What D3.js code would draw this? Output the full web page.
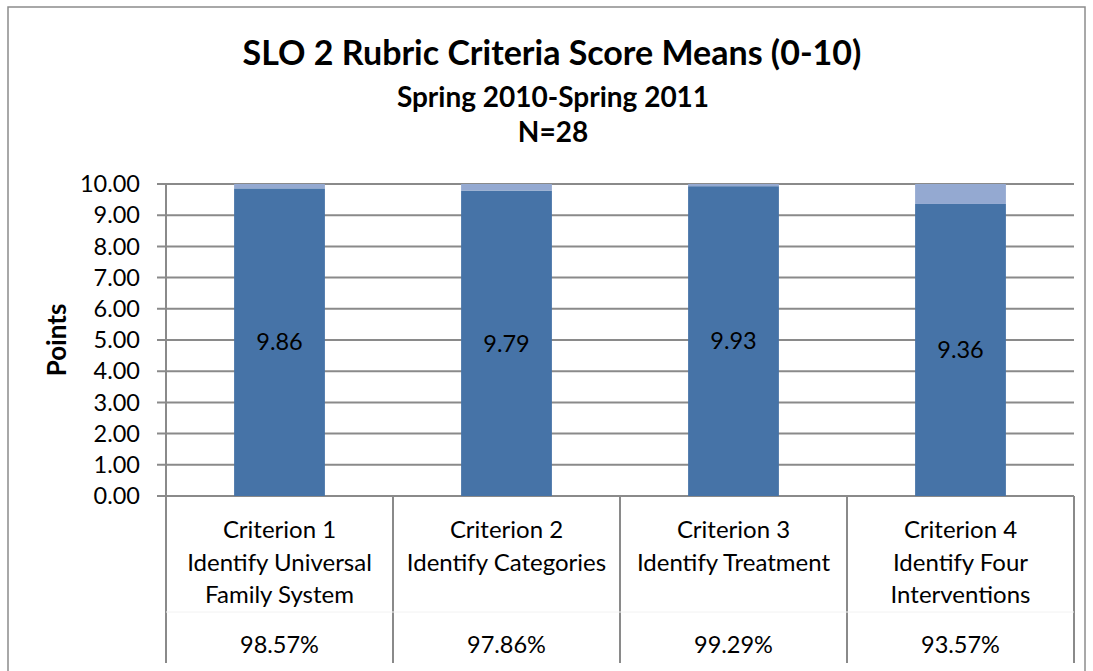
<!DOCTYPE html>
<html>
  <head>
    <meta charset="utf-8" />
    <script src="https://d3js.org/d3.v7.min.js"></script>
    <style>
      body { margin: 0; background: #fff; }
      text { font-family: Lato, "Open Sans", sans-serif; fill: #000; }
    </style>
  </head>
  <body>
    <svg id="chart" width="1093" height="671"></svg>
    <script>
      // Datos
      const categories = [
        ["Criterion 1", "Identify Universal", "Family System"],
        ["Criterion 2", "Identify Categories"],
        ["Criterion 3", "Identify Treatment"],
        ["Criterion 4", "Identify Four", "Interventions"]
      ];
      const means = [9.86, 9.79, 9.93, 9.36];
      const remainder = [0.14, 0.21, 0.07, 0.64];
      const percents = ["98.57%", "97.86%", "99.29%", "93.57%"];
      const yTicks = [0, 1, 2, 3, 4, 5, 6, 7, 8, 9, 10];

      const width = 1093;
      const height = 671;
      const margin = { top: 184, right: 19, bottom: 175, left: 166 };
      const svg = d3.select("#chart");

      // Borde exterior
      svg.append("rect")
        .attr("x", 8).attr("y", 7)
        .attr("width", 1077).attr("height", 700)
        .attr("fill", "none")
        .attr("stroke", "#8c8c8c")
        .attr("stroke-width", 1.5);

      // Escalas
      const xScale = d3.scaleBand()
        .domain(d3.range(categories.length))
        .range([margin.left, width - margin.right])
        .paddingInner(0)
        .paddingOuter(0);
      const yScale = d3.scaleLinear()
        .domain([0, 10])
        .range([height - margin.bottom, margin.top]);

      // Líneas de cuadrícula
      svg.append("g")
        .selectAll("line")
        .data(yTicks)
        .join("line")
        .attr("x1", margin.left - 9)
        .attr("x2", width - margin.right)
        .attr("y1", (d) => yScale(d))
        .attr("y2", (d) => yScale(d))
        .attr("stroke", "#8a8a8a")
        .attr("stroke-width", 2);

      // Etiquetas del eje y
      svg.append("g")
        .selectAll("text")
        .data(yTicks)
        .join("text")
        .attr("x", 140)
        .attr("y", (d) => yScale(d))
        .attr("dy", "0.35em")
        .attr("text-anchor", "end")
        .attr("font-size", "23.5px")
        .text((d) => d.toFixed(2));

      // Barras
      const barW = xScale.bandwidth() * 0.4;
      const bars = svg.append("g");
      bars.selectAll("rect.dark")
        .data(means)
        .join("rect")
        .attr("class", "dark")
        .attr("x", (d, i) => xScale(i) + (xScale.bandwidth() - barW) / 2)
        .attr("width", barW)
        .attr("y", (d) => yScale(d))
        .attr("height", (d) => yScale(0) - yScale(d))
        .attr("fill", "#4673a7");
      bars.selectAll("rect.light")
        .data(remainder)
        .join("rect")
        .attr("class", "light")
        .attr("x", (d, i) => xScale(i) + (xScale.bandwidth() - barW) / 2)
        .attr("width", barW)
        .attr("y", (d, i) => yScale(means[i] + d))
        .attr("height", (d, i) => yScale(means[i]) - yScale(means[i] + d))
        .attr("fill", "#94a9d1");

      // Valores en las barras
      svg.append("g")
        .selectAll("text")
        .data(means)
        .join("text")
        .attr("x", (d, i) => xScale(i) + xScale.bandwidth() / 2)
        .attr("y", (d) => yScale(d / 2))
        .attr("dy", "0.35em")
        .attr("text-anchor", "middle")
        .attr("font-size", "23.5px")
        .text((d) => d.toFixed(2));

      // Eje y
      svg.append("line")
        .attr("x1", margin.left).attr("x2", margin.left)
        .attr("y1", yScale(10)).attr("y2", yScale(0))
        .attr("stroke", "#8a8a8a")
        .attr("stroke-width", 2);

      // Tabla de datos
      const tableBottom = 663;
      svg.append("g")
        .selectAll("line")
        .data(d3.range(categories.length + 1))
        .join("line")
        .attr("x1", (d) => xScale(d) ?? width - margin.right)
        .attr("x2", (d) => xScale(d) ?? width - margin.right)
        .attr("y1", yScale(0))
        .attr("y2", tableBottom)
        .attr("stroke", "#8a8a8a")
        .attr("stroke-width", 2);
      svg.append("line")
        .attr("x1", margin.left).attr("x2", width - margin.right)
        .attr("y1", 612).attr("y2", 612)
        .attr("stroke", "#f2f2f2")
        .attr("stroke-width", 1);

      const cat = svg.append("g")
        .selectAll("text")
        .data(categories)
        .join("text")
        .attr("text-anchor", "middle")
        .attr("font-size", "24px")
        .attr("x", (d, i) => xScale(i) + xScale.bandwidth() / 2)
        .attr("y", 530);
      cat.selectAll("tspan")
        .data((d) => d)
        .join("tspan")
        .attr("x", function () { return d3.select(this.parentNode).attr("x"); })
        .attr("y", (d, j) => 530 + j * 32.5)
        .attr("dy", "0.35em")
        .text((d) => d);

      svg.append("g")
        .selectAll("text")
        .data(percents)
        .join("text")
        .attr("x", (d, i) => xScale(i) + xScale.bandwidth() / 2)
        .attr("y", 645)
        .attr("dy", "0.35em")
        .attr("text-anchor", "middle")
        .attr("font-size", "23.5px")
        .text((d) => d);

      // Títulos
      svg.append("text")
        .attr("x", 552).attr("y", 53)
        .attr("dy", "0.35em")
        .attr("text-anchor", "middle")
        .attr("font-size", "34px")
        .attr("font-weight", "bold")
        .text("SLO 2 Rubric Criteria Score Means (0-10)");
      svg.append("text")
        .attr("x", 553).attr("y", 97)
        .attr("dy", "0.35em")
        .attr("text-anchor", "middle")
        .attr("font-size", "28px")
        .attr("font-weight", "bold")
        .text("Spring 2010-Spring 2011");
      svg.append("text")
        .attr("x", 553).attr("y", 132)
        .attr("dy", "0.35em")
        .attr("text-anchor", "middle")
        .attr("font-size", "28px")
        .attr("font-weight", "bold")
        .text("N=28");

      // Etiqueta del eje y
      svg.append("text")
        .attr("transform", "translate(57,340) rotate(-90)")
        .attr("dy", "0.35em")
        .attr("text-anchor", "middle")
        .attr("font-size", "26px")
        .attr("font-weight", "bold")
        .text("Points");
    </script>
  </body>
</html>
